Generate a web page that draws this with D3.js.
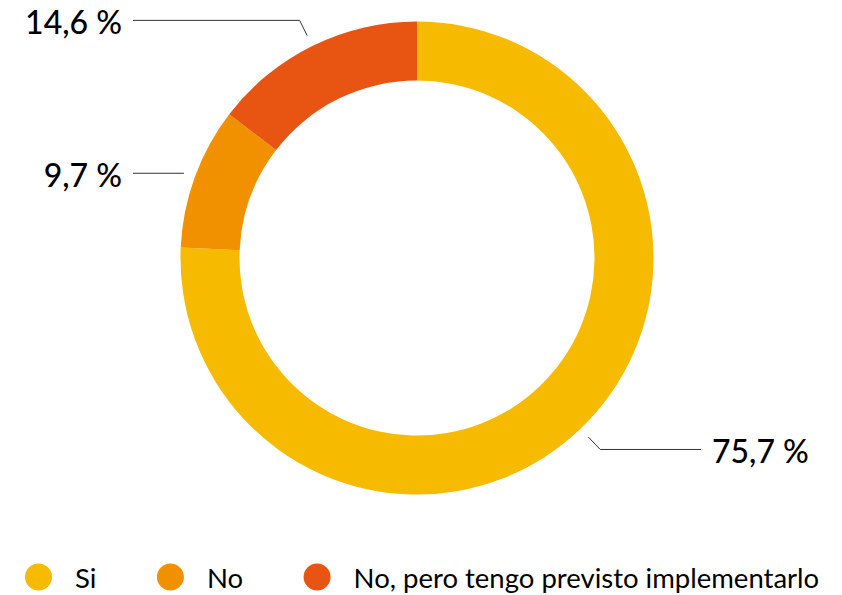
<!DOCTYPE html>
<html>
<head>
<meta charset="utf-8">
<script src="https://cdn.jsdelivr.net/npm/d3@7"></script>
<style>
  html, body { margin: 0; padding: 0; background: #fff; }
  svg { display: block; }
  text { font-family: Lato, "Open Sans", sans-serif; fill: #000; }
</style>
</head>
<body>
<svg id="chart" width="842" height="595"></svg>
<script>
// ---- data ----
const categories = ["Si", "No", "No, pero tengo previsto implementarlo"];
const values = [75.7, 9.7, 14.6];
const valueLabels = ["75,7 %", "9,7 %", "14,6 %"];
const colors = ["#F6BA00", "#F29100", "#E85412"];

// ---- layout ----
const W = 842, H = 595;
const cx = 417, cy = 258;
const outerR = 236.5, innerR = 177.5;
const svg = d3.select("#chart");

const pie = d3.pie().sort(null).value(d => d.value);
const arcs = pie(categories.map((c, i) => ({ name: c, value: values[i], label: valueLabels[i], color: colors[i] })));
const arc = d3.arc().innerRadius(innerR).outerRadius(outerR);

const g = svg.append("g").attr("transform", `translate(${cx},${cy})`);
g.selectAll("path.slice").data(arcs).enter().append("path")
  .attr("class", "slice")
  .attr("d", arc)
  .attr("fill", d => d.data.color);

// leader lines + labels
const r1 = 248, r2 = 265, hx = 284;
arcs.forEach(d => {
  const a = (d.startAngle + d.endAngle) / 2;
  const p1 = [r1 * Math.sin(a), -r1 * Math.cos(a)];
  let p2 = [r2 * Math.sin(a), -r2 * Math.cos(a)];
  // near-horizontal slices get a straight connector
  if (Math.abs(Math.cos(a)) < 0.4) p2 = p1;
  const right = Math.sin(a) > 0;
  const p3 = [right ? hx : -hx, p2[1]];
  g.append("path")
    .attr("d", d3.line()([p1, p2, p3]))
    .attr("fill", "none")
    .attr("stroke", "#333")
    .attr("stroke-width", 1);
  g.append("text")
    .attr("x", right ? hx + 11 : -hx - 11)
    .attr("y", p3[1] + 13.5)
    .attr("text-anchor", right ? "start" : "end")
    .attr("font-size", 32)
    .attr("font-weight", 500)
    .text(d.data.label);
});

// legend
const legend = svg.append("g").attr("transform", "translate(0,577)");
let lx = 38.5;
categories.forEach((c, i) => {
  const item = legend.append("g").attr("transform", `translate(${lx},0)`);
  item.append("circle").attr("r", 13.5).attr("fill", colors[i]);
  const t = item.append("text").attr("x", 36.5).attr("y", 10.5).attr("font-size", 27.5).text(c);
  const w = t.node().getComputedTextLength();
  lx += 36.5 + w + 74;
});
</script>
</body>
</html>
